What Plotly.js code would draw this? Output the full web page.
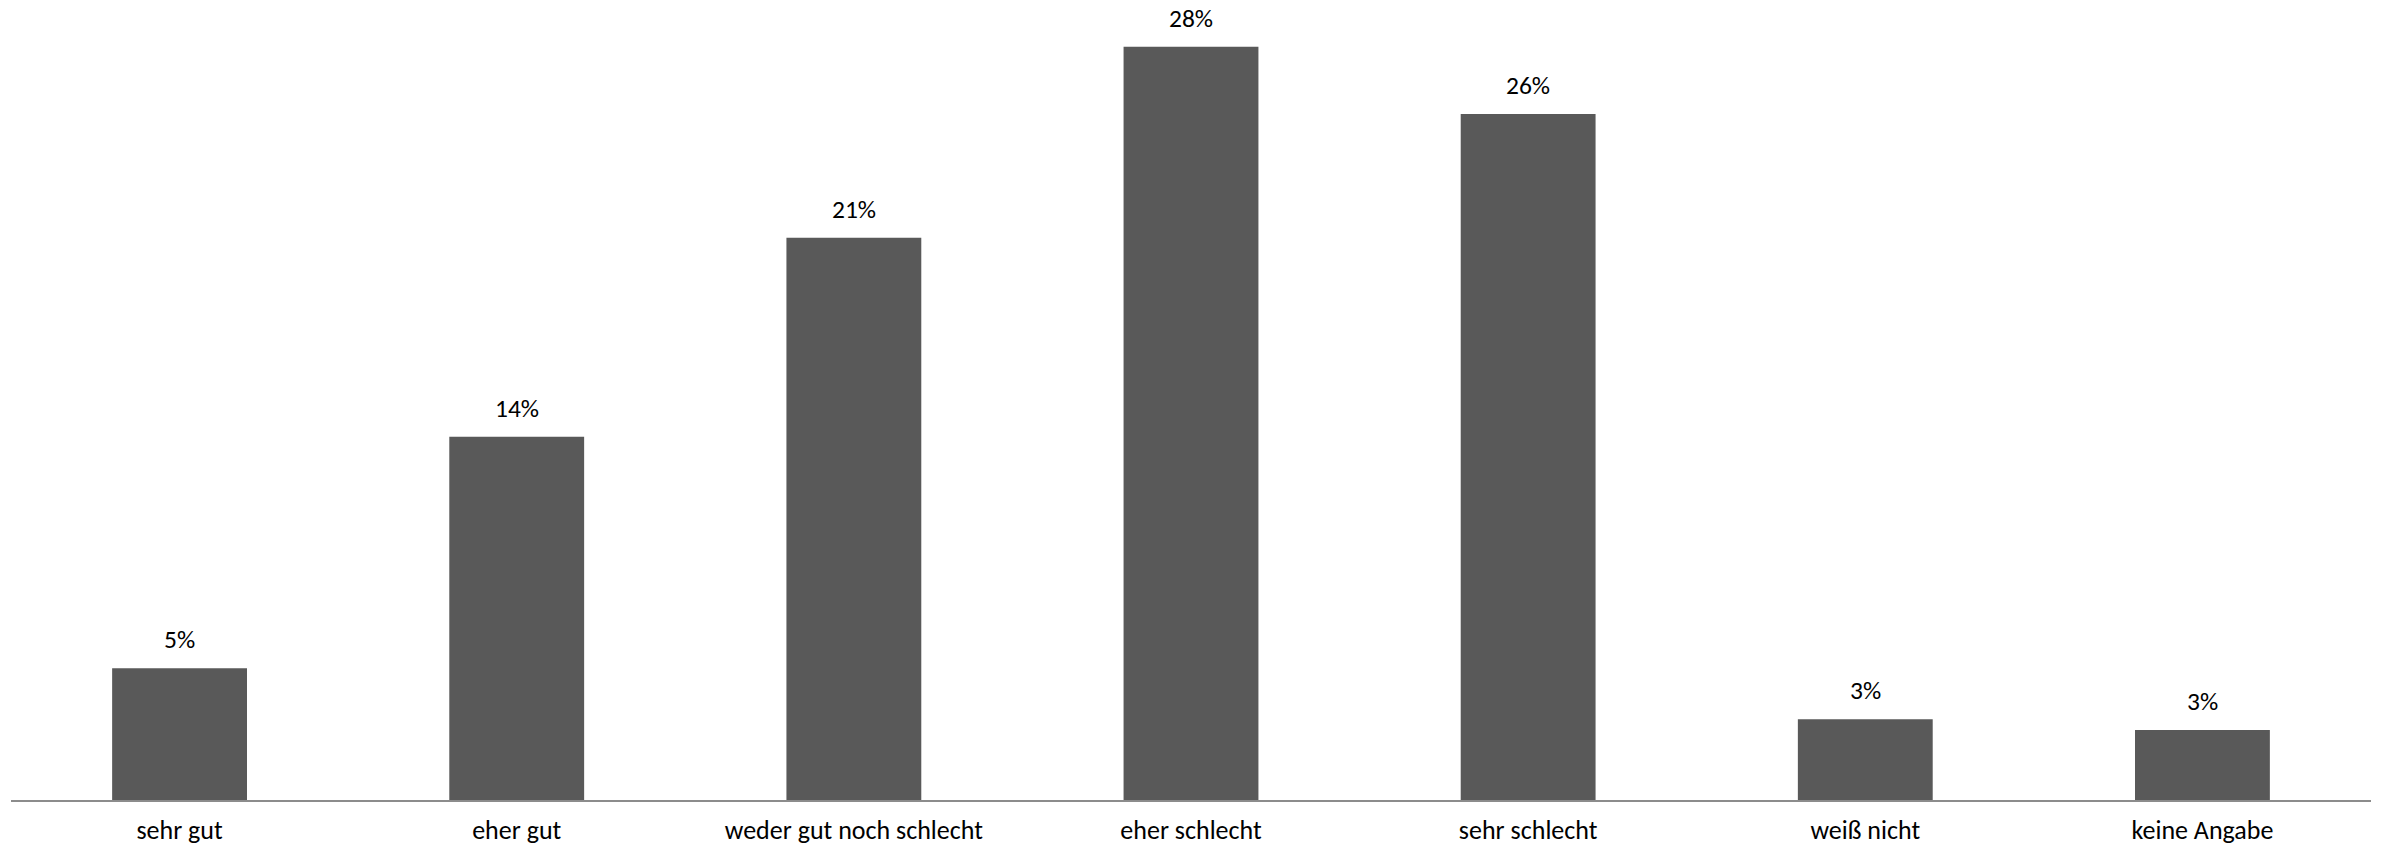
<!DOCTYPE html>
<html>
<head>
<meta charset="utf-8">
<script src="https://cdn.plot.ly/plotly-3.0.1.min.js"></script>
<style>html,body{margin:0;padding:0;background:#fff;}#chart{width:2392px;height:849px;}</style>
</head>
<body>
<div id="chart"></div>
<script>
const categories = ["sehr gut", "eher gut", "weder gut noch schlecht", "eher schlecht", "sehr schlecht", "weiß nicht", "keine Angabe"];
const values = [4.9, 13.5, 20.9, 28.0, 25.5, 3.0, 2.6];
const valueLabels = ["5%", "14%", "21%", "28%", "26%", "3%", "3%"];

const FONT = "Carlito, Lato, 'Open Sans', sans-serif";

const trace = {
  type: "bar",
  x: categories,
  y: values,
  marker: {color: "#595959", line: {width: 0}},
  hoverinfo: "skip"
};

const annotations = categories.map((c, i) => ({
  x: c, y: values[i], xref: "x", yref: "y",
  text: valueLabels[i], showarrow: false,
  yanchor: "bottom", yshift: 11,
  font: {family: FONT, size: 25.5, color: "#000000"}
}));

const layout = {
  width: 2392, height: 849,
  margin: {l: 11, r: 21, t: 0, b: 49, pad: 0},
  paper_bgcolor: "#ffffff", plot_bgcolor: "#ffffff",
  showlegend: false,
  bargap: 0.6,
  xaxis: {
    type: "category",
    showline: true, linecolor: "#8c8c8c", linewidth: 1.5,
    ticks: "", showgrid: false, zeroline: false,
    tickfont: {family: FONT, size: 26, color: "#000000"},
    ticklabelstandoff: 6,
    fixedrange: true
  },
  yaxis: {
    range: [0, 29.74], visible: false, showgrid: false, zeroline: false, fixedrange: true
  },
  annotations: annotations
};

Plotly.newPlot("chart", [trace], layout, {displayModeBar: false, staticPlot: true});
</script>
</body>
</html>
